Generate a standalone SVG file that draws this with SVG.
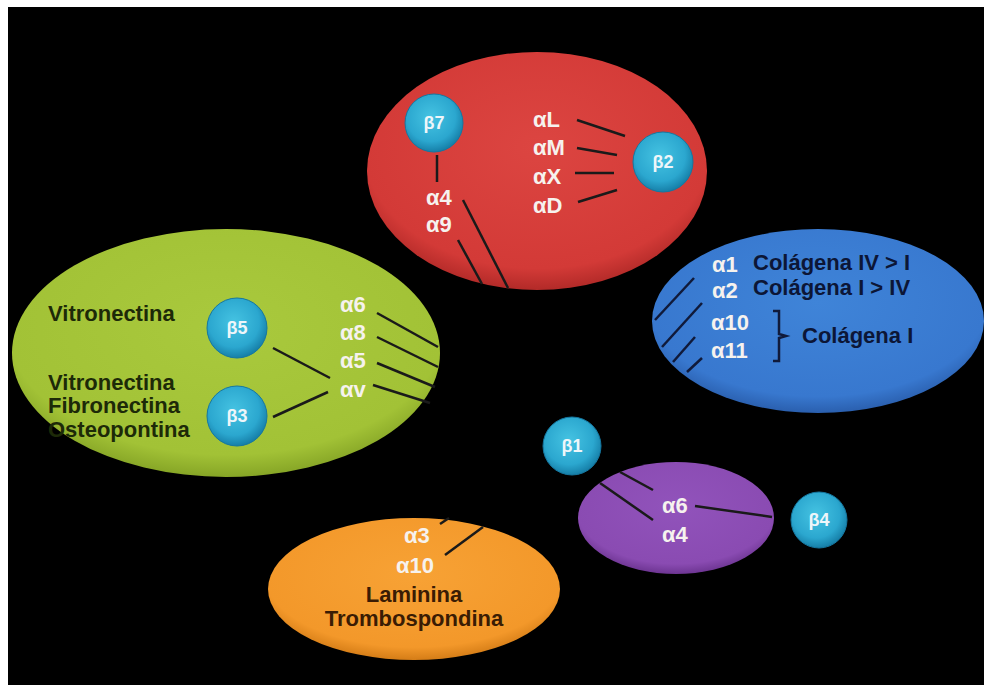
<svg xmlns="http://www.w3.org/2000/svg" width="984" height="685" viewBox="0 0 984 685">
<defs>
<radialGradient id="gRed" cx="50%" cy="40%" r="60%"><stop offset="0" stop-color="#dc4541"/><stop offset="0.85" stop-color="#d33a37"/><stop offset="1" stop-color="#b22a28"/></radialGradient>
<radialGradient id="gGreen" cx="50%" cy="40%" r="60%"><stop offset="0" stop-color="#a9c93d"/><stop offset="0.85" stop-color="#a2c236"/><stop offset="1" stop-color="#86a526"/></radialGradient>
<radialGradient id="gBlue" cx="50%" cy="40%" r="60%"><stop offset="0" stop-color="#3f84d8"/><stop offset="0.85" stop-color="#3878cf"/><stop offset="1" stop-color="#2a5fae"/></radialGradient>
<radialGradient id="gPurple" cx="50%" cy="40%" r="60%"><stop offset="0" stop-color="#9153bb"/><stop offset="0.85" stop-color="#8a4bb2"/><stop offset="1" stop-color="#6d3592"/></radialGradient>
<radialGradient id="gOrange" cx="50%" cy="40%" r="60%"><stop offset="0" stop-color="#f7a235"/><stop offset="0.85" stop-color="#f3982a"/><stop offset="1" stop-color="#d57d17"/></radialGradient>
<radialGradient id="gBeta" cx="45%" cy="40%" r="60%"><stop offset="0" stop-color="#45c3e2"/><stop offset="0.7" stop-color="#2ba7cf"/><stop offset="1" stop-color="#167fa8"/></radialGradient>
</defs>
<style>
.a{font-family:"Liberation Sans",Arial,sans-serif;font-weight:bold;font-size:22px;fill:#f6f2ee}
.d{font-family:"Liberation Sans",Arial,sans-serif;font-weight:bold;font-size:22px}
.b{font-family:"Liberation Sans",Arial,sans-serif;font-weight:bold;font-size:18px;fill:#eef6fa;text-anchor:middle}
.c{fill:url(#gBeta);stroke:#1577a0;stroke-width:1}
.l{stroke:#1a1a1a;stroke-width:2.5;fill:none}
.ln{stroke:#101a3a;stroke-width:2.5;fill:none}
</style>
<rect x="8" y="7" width="976" height="678" fill="#000"/>

<g id="green">
<ellipse cx="226" cy="353" rx="214" ry="124" fill="url(#gGreen)"/>
<text class="d" x="48" y="321" fill="#1d2a08">Vitronectina</text>
<text class="d" x="48" y="390" fill="#1d2a08">Vitronectina</text>
<text class="d" x="48" y="413" fill="#1d2a08">Fibronectina</text>
<text class="d" x="48" y="437" fill="#1d2a08">Osteopontina</text>
<text class="a" x="340" y="312">α6</text>
<text class="a" x="340" y="340">α8</text>
<text class="a" x="340" y="368">α5</text>
<text class="a" x="340" y="397">αv</text>
</g>

<g id="red">
<ellipse cx="537" cy="171" rx="170" ry="119" fill="url(#gRed)"/>
<text class="a" x="533" y="127">αL</text>
<text class="a" x="533" y="155">αM</text>
<text class="a" x="533" y="184">αX</text>
<text class="a" x="533" y="213">αD</text>
<text class="a" x="426" y="205">α4</text>
<text class="a" x="426" y="232">α9</text>
</g>

<g id="blue">
<ellipse cx="818" cy="321" rx="166" ry="92" fill="url(#gBlue)"/>
<text class="a" x="712" y="272">α1</text>
<text class="a" x="712" y="298">α2</text>
<text class="a" x="711" y="330">α10</text>
<text class="a" x="711" y="358">α11</text>
<text class="d" x="753" y="270" fill="#0c1636">Colágena IV &gt; I</text>
<text class="d" x="753" y="295" fill="#0c1636">Colágena I &gt; IV</text>
<text class="d" x="802" y="343" fill="#0c1636">Colágena I</text>
<path class="ln" d="M773,311 L779,311 L779,334 L786,336 L779,338 L779,361 L773,361"/>
</g>

<g id="purple">
<ellipse cx="676" cy="518" rx="98" ry="56" fill="url(#gPurple)"/>
<text class="a" x="662" y="513">α6</text>
<text class="a" x="662" y="542">α4</text>
</g>

<g id="orange">
<ellipse cx="414" cy="589" rx="146" ry="71" fill="url(#gOrange)"/>
<text class="a" x="404" y="543">α3</text>
<text class="a" x="396" y="573">α10</text>
<text class="d" x="414" y="602" fill="#3a1c04" text-anchor="middle">Laminina</text>
<text class="d" x="414" y="626" fill="#3a1c04" text-anchor="middle">Trombospondina</text>
</g>

<g id="connectors">
<line class="l" x1="577" y1="120" x2="625" y2="136"/>
<line class="l" x1="577" y1="148" x2="617" y2="155"/>
<line class="l" x1="575" y1="173" x2="614" y2="173"/>
<line class="l" x1="578" y1="202" x2="617" y2="190"/>
<line class="l" x1="437" y1="155" x2="437" y2="182"/>
<line class="l" x1="463" y1="200" x2="508" y2="288"/>
<line class="l" x1="458" y1="240" x2="482" y2="284"/>
<line class="l" x1="377" y1="313" x2="438" y2="347"/>
<line class="l" x1="377" y1="337" x2="438" y2="367"/>
<line class="l" x1="377" y1="363" x2="435" y2="387"/>
<line class="l" x1="373" y1="385" x2="430" y2="403"/>
<line class="l" x1="273" y1="348" x2="330" y2="378"/>
<line class="l" x1="273" y1="417" x2="328" y2="392"/>
<line class="ln" x1="694" y1="278" x2="655" y2="320"/>
<line class="ln" x1="702" y1="303" x2="662" y2="347"/>
<line class="ln" x1="695" y1="337" x2="673" y2="362"/>
<line class="ln" x1="702" y1="358" x2="687" y2="372"/>
<line class="l" x1="620" y1="472" x2="653" y2="490"/>
<line class="l" x1="600" y1="483" x2="653" y2="520"/>
<line class="l" x1="695" y1="506" x2="772" y2="517"/>
<line class="l" x1="440" y1="524" x2="449" y2="518"/>
<line class="l" x1="445" y1="555" x2="483" y2="527"/>
</g>

<g id="b7"><circle class="c" cx="434" cy="123" r="29"/><text class="b" x="434" y="129">β7</text></g>
<g id="b2"><circle class="c" cx="663" cy="162" r="30"/><text class="b" x="663" y="168">β2</text></g>
<g id="b5"><circle class="c" cx="237" cy="328" r="30"/><text class="b" x="237" y="334">β5</text></g>
<g id="b3"><circle class="c" cx="237" cy="416" r="30"/><text class="b" x="237" y="422">β3</text></g>
<g id="b1"><circle class="c" cx="572" cy="446" r="29"/><text class="b" x="572" y="452">β1</text></g>
<g id="b4"><circle class="c" cx="819" cy="520" r="28"/><text class="b" x="819" y="526">β4</text></g>
</svg>
